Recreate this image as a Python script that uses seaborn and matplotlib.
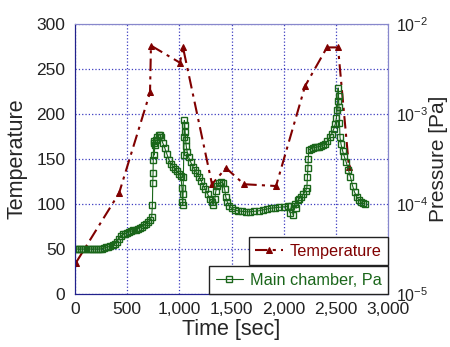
import numpy as np
import pandas as pd
import matplotlib
matplotlib.use("Agg")
import matplotlib.pyplot as plt
import matplotlib.ticker as mticker
import seaborn as sns

# temperature log (thermocouple)
temp_time = [10, 422, 719, 728, 1006, 1035, 1313, 1447, 1620, 1927, 2205, 2415, 2521, 2626]
temp_value = [35, 112, 224, 276, 257, 274, 122, 140, 122, 120, 231, 274, 274, 141]

# main chamber pressure [Pa]
press_time = [0, 20, 40, 60, 80, 100, 120, 140, 160, 180, 200, 220, 240, 260, 280, 300,
              320, 340, 360, 380, 400, 420, 440, 460, 480, 500, 520, 540, 560, 580, 600,
              620, 640, 660, 680, 700, 720, 735,
              742, 745, 748, 750, 753, 756, 760, 765, 775, 790, 805, 815, 825, 840, 860,
              880, 900, 920, 940, 960, 980, 1000, 1015,
              1025, 1030, 1033, 1036, 1039, 1042, 1045, 1048, 1052, 1056, 1060, 1066, 1075,
              1090, 1110, 1130, 1150, 1170, 1190, 1210, 1230, 1250, 1270, 1290, 1310, 1325,
              1340, 1350, 1365, 1380, 1400, 1420, 1435, 1445, 1460, 1480, 1500, 1530, 1560,
              1600, 1640, 1680, 1720, 1760, 1800, 1840, 1880, 1920, 1960, 2000, 2040, 2060,
              2075, 2090, 2105, 2120, 2135, 2150, 2170, 2190, 2210, 2222, 2228, 2232, 2236,
              2240, 2260, 2280, 2300, 2320, 2340, 2360, 2380, 2400, 2420, 2440, 2460, 2480,
              2495, 2505, 2512, 2518, 2522, 2526, 2530, 2535, 2540, 2550, 2565, 2580, 2600,
              2620, 2640, 2660, 2680, 2700, 2720, 2740, 2760, 2780]
press_value = [3.16e-5, 3.16e-5, 3.16e-5, 3.16e-5, 3.16e-5, 3.16e-5, 3.16e-5, 3.16e-5,
               3.16e-5, 3.16e-5, 3.16e-5, 3.16e-5, 3.16e-5, 3.2e-5, 3.24e-5, 3.3e-5,
               3.35e-5, 3.4e-5, 3.5e-5, 3.6e-5, 3.8e-5, 4.1e-5, 4.4e-5, 4.6e-5, 4.7e-5,
               4.8e-5, 4.9e-5, 5.0e-5, 5.1e-5, 5.2e-5, 5.3e-5, 5.45e-5, 5.6e-5, 5.8e-5,
               6.0e-5, 6.3e-5, 6.7e-5, 7.2e-5,
               9.8e-5, 1.7e-4, 2.2e-4, 3.1e-4, 4.8e-4, 5.0e-4, 3.5e-4, 4.5e-4, 5.2e-4,
               5.6e-4, 5.9e-4, 5.9e-4, 5.5e-4, 4.8e-4, 4.2e-4, 3.6e-4, 3.1e-4, 2.8e-4,
               2.6e-4, 2.45e-4, 2.3e-4, 2.15e-4, 2.05e-4,
               1.5e-4, 1.05e-4, 9.8e-5, 1.3e-4, 2.0e-4, 3.5e-4, 5.6e-4, 8.5e-4, 7.5e-4,
               6.3e-4, 5.2e-4, 4.4e-4, 3.8e-4, 3.3e-4, 2.9e-4, 2.6e-4, 2.4e-4, 2.2e-4,
               2.0e-4, 1.8e-4, 1.6e-4, 1.45e-4, 1.3e-4, 1.15e-4, 1.05e-4, 9.8e-5,
               1.15e-4, 1.4e-4, 1.6e-4, 1.7e-4, 1.75e-4, 1.7e-4, 1.45e-4, 1.2e-4, 1.05e-4,
               9.5e-5, 9.0e-5, 8.6e-5, 8.4e-5, 8.3e-5, 8.2e-5, 8.2e-5, 8.3e-5, 8.4e-5,
               8.6e-5, 8.8e-5, 9.0e-5, 9.1e-5, 9.2e-5, 9.3e-5, 9.4e-5, 8.0e-5,
               9.6e-5, 7.6e-5, 1.0e-4, 9.0e-5, 1.1e-4, 1.15e-4, 1.2e-4, 1.3e-4, 1.4e-4,
               1.5e-4, 2.0e-4, 2.5e-4, 3.2e-4, 4.0e-4, 4.1e-4, 4.2e-4, 4.25e-4, 4.3e-4,
               4.35e-4, 4.4e-4, 4.5e-4, 4.7e-4, 5.0e-4, 5.5e-4, 6.0e-4, 6.8e-4,
               7.8e-4, 9.0e-4, 1.1e-3, 1.4e-3, 1.95e-3, 1.6e-3, 1.2e-3, 8.0e-4, 5.5e-4,
               4.6e-4, 3.9e-4, 3.4e-4, 2.9e-4, 2.4e-4, 2.0e-4, 1.6e-4, 1.35e-4, 1.2e-4,
               1.12e-4, 1.06e-4, 1.02e-4, 1.0e-4]

temp_df = pd.DataFrame({"time": temp_time, "temp": temp_value})
press_df = pd.DataFrame({"time": press_time, "press": press_value})

sns.set_style("white")
plt.rcParams["font.family"] = ["Liberation Sans", "DejaVu Sans"]
plt.rcParams["mathtext.fontset"] = "custom"
plt.rcParams["mathtext.rm"] = "Liberation Sans"
plt.rcParams["mathtext.default"] = "regular"

red = "#800000"
green = "#1a661a"

fig = plt.figure(figsize=(4.5, 3.47), dpi=100)
ax = fig.add_axes([0.1667, 0.1527, 0.6955, 0.7781])
ax2 = ax.twinx()

sns.lineplot(data=temp_df, x="time", y="temp", ax=ax, color=red, estimator=None,
             marker="^", markersize=5, markeredgecolor=red, linewidth=1.5,
             linestyle=(0, (6, 2.5, 1.5, 2.5)), label="Temperature", legend=False)

ax2.set_yscale("log")
sns.lineplot(data=press_df, x="time", y="press", ax=ax2, color=green, estimator=None,
             marker="s", markersize=4.2, markerfacecolor="none", markeredgecolor=green,
             markeredgewidth=1.0, linewidth=0.8, label="Main chamber, Pa", legend=False)

ax.set_xlim(0, 3000)
ax.set_ylim(0, 300)
ax2.set_ylim(1e-5, 1e-2)
ax.set_xticks(np.arange(0, 3001, 500))
ax.set_yticks(np.arange(0, 301, 50))
ax.xaxis.set_major_formatter(mticker.FuncFormatter(lambda v, p: f"{int(v):,}"))
ax2.yaxis.set_major_locator(mticker.LogLocator(base=10, numticks=10))
ax2.yaxis.set_minor_locator(mticker.NullLocator())

ax.grid(True, color="#3c3cc0", linestyle=":", linewidth=0.9)
ax.tick_params(axis="both", length=0, labelsize=12.5, colors="#222222")
ax.tick_params(axis="y", pad=7)
ax.tick_params(axis="x", pad=6)
ax2.tick_params(axis="y", length=0, labelsize=11.5, pad=6, colors="#222222")

for a in (ax, ax2):
    a.spines["left"].set_color("#22228c")
    a.spines["bottom"].set_color("#22228c")
    a.spines["top"].set_color("#8888cc")
    a.spines["right"].set_color("#8888cc")

ax.set_xlabel("Time [sec]", fontsize=15.5, labelpad=1)
ax.set_ylabel("Temperature", fontsize=15.5, labelpad=6)
ax2.set_ylabel("Pressure [Pa]", fontsize=15, labelpad=0)

# two stacked legend boxes in the lower right corner
h1 = ax.get_lines()[0]
h2 = ax2.get_lines()[0]
leg_p = ax2.legend([h2], ["Main chamber, Pa"], loc="lower right", bbox_to_anchor=(1, 0),
                   borderaxespad=0, fontsize=11.7, fancybox=False, framealpha=1,
                   edgecolor="#222222", handlelength=1.7, handletextpad=0.4,
                   labelcolor=green)
leg_p.get_frame().set_linewidth(1.0)
ax2.add_artist(leg_p)
leg_t = ax2.legend([h1], ["Temperature"], loc="lower right", bbox_to_anchor=(1, 0.107),
                   borderaxespad=0, fontsize=11.7, fancybox=False, framealpha=1,
                   edgecolor="#222222", handlelength=1.7, handletextpad=0.4,
                   labelcolor=red)
leg_t.get_frame().set_linewidth(1.0)

fig.savefig("out.png", dpi=100)
